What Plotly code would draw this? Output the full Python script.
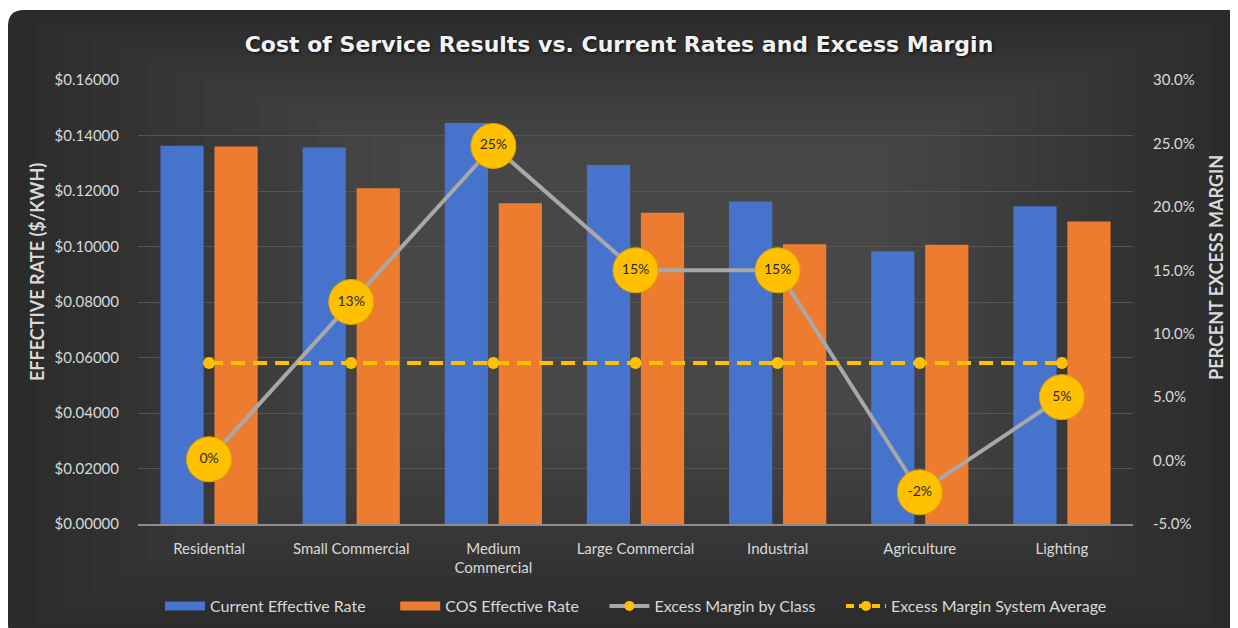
import plotly.graph_objects as go

categories = ["Residential", "Small Commercial", "Medium<br>Commercial", "Large Commercial",
              "Industrial", "Agriculture", "Lighting"]
current_rate = [0.1363, 0.1357, 0.1445, 0.1294, 0.1162, 0.0983, 0.1145]
cos_rate = [0.1360, 0.1210, 0.1156, 0.1122, 0.1008, 0.1006, 0.1090]
margin_by_class = [0.001, 0.125, 0.248, 0.150, 0.150, -0.025, 0.050]
margin_labels = ["0%", "13%", "25%", "15%", "15%", "-2%", "5%"]
margin_avg = [0.077] * 7
y2_ticks = [-0.05, 0.0, 0.05, 0.10, 0.15, 0.20, 0.25, 0.30]
y2_ticktext = ["-5.0%", "0.0%", "5.0%", "10.0%", "15.0%", "20.0%", "25.0%", "30.0%"]

# screen geometry (page has an 8px body margin)
OFF = 8
W, H = 1238 - OFF, 628 - OFF
L, R, T, B = 138, 1133, 80, 524  # plot area in screen pixels
FONT = "Lato"
TXT = "#D9D9D9"
NB = "\u00a0"


def px(x):
    return (x - L) / (R - L)


def py(y):
    return (B - y) / (B - T)


fig = go.Figure()
# legend-only swatches
fig.add_trace(go.Scatter(x=[categories[0]], y=[None], mode="lines",
                         name="Current Effective Rate" + NB * 6,
                         line=dict(color="#4674CC", width=9)))
fig.add_trace(go.Scatter(x=[categories[0]], y=[None], mode="lines",
                         name="COS Effective Rate" + NB * 5,
                         line=dict(color="#EE7C30", width=9)))
fig.add_trace(go.Scatter(x=[categories[0]], y=[None], mode="lines+markers",
                         name="Excess Margin by Class" + NB * 5,
                         line=dict(color="#A8A8A8", width=4), marker=dict(size=10, color="#FFC000")))
fig.add_trace(go.Scatter(x=[categories[0]], y=[None], mode="lines+markers",
                         name="Excess Margin System Average",
                         line=dict(color="#FFC000", width=4, dash="8px,5px"),
                         marker=dict(size=10, color="#FFC000")))

fig.add_trace(go.Bar(x=categories, y=current_rate, name="Current Effective Rate", showlegend=False,
                     marker=dict(color="#4674CC", line=dict(width=0))))
fig.add_trace(go.Bar(x=categories, y=cos_rate, name="COS Effective Rate", showlegend=False,
                     marker=dict(color="#EE7C30", line=dict(width=0))))
fig.add_trace(go.Scatter(x=categories, y=margin_by_class, yaxis="y2", name="Excess Margin by Class",
                         showlegend=False,
                         mode="lines+markers+text", text=margin_labels, textposition="middle center",
                         textfont=dict(family=FONT, size=14, color="#2a2a2a"),
                         line=dict(color="#A8A8A8", width=4),
                         marker=dict(size=45, color="#FFC000", line=dict(color="#E0A500", width=1))))
fig.add_trace(go.Scatter(x=categories, y=margin_avg, yaxis="y2", name="Excess Margin System Average",
                         showlegend=False, mode="lines+markers",
                         line=dict(color="#FFC000", width=4, dash="14px,8px"),
                         marker=dict(size=12, color="#FFC000")))

# background card with soft radial-ish gradient
shapes = []
r = 16
x0, x1, y0, y1 = 8, 1250, 10, 640
path = (f"M {px(x0 + r)},{py(y0)} L {px(x1 - r)},{py(y0)} Q {px(x1)},{py(y0)} {px(x1)},{py(y0 + r)} "
        f"L {px(x1)},{py(y1 - r)} Q {px(x1)},{py(y1)} {px(x1 - r)},{py(y1)} "
        f"L {px(x0 + r)},{py(y1)} Q {px(x0)},{py(y1)} {px(x0)},{py(y1 - r)} "
        f"L {px(x0)},{py(y0 + r)} Q {px(x0)},{py(y0)} {px(x0 + r)},{py(y0)} Z")
shapes.append(dict(type="path", xref="paper", yref="paper", path=path,
                   fillcolor="#2b2b2b", line=dict(width=0), layer="below"))
steps = 14
for i in range(1, steps + 1):
    fx = i * 28
    fy = i * 16
    shapes.append(dict(type="rect", xref="paper", yref="paper",
                       x0=px(x0 + fx), x1=px(1238 - fx * 0.9), y0=py(y0 + fy * 0.6), y1=py(640 - fy),
                       fillcolor="rgba(255,255,255,0.012)", line=dict(width=0), layer="below"))

annotations = [
    dict(text="EFFECTIVE RATE ($/KWH)", xref="paper", yref="paper", x=px(37), y=py(272),
         xanchor="center", yanchor="middle",
         textangle=-90, showarrow=False, font=dict(family=FONT, size=18, color=TXT, weight="bold")),
    dict(text="PERCENT EXCESS MARGIN", xref="paper", yref="paper", x=px(1216), y=py(268),
         xanchor="center", yanchor="middle",
         textangle=-90, showarrow=False, font=dict(family=FONT, size=18, color=TXT, weight="bold")),
]

fig.update_layout(
    width=W, height=H,
    margin=dict(l=L - OFF, r=W - (R - OFF), t=T - OFF, b=H - (B - OFF), autoexpand=False),
    paper_bgcolor="white", plot_bgcolor="rgba(0,0,0,0)",
    font=dict(family=FONT, color=TXT, size=15),
    title=dict(text="Cost of Service Results vs. Current Rates and Excess Margin",
               x=(619 - OFF) / W, xanchor="center", y=1 - (44 - OFF) / H, yanchor="middle",
               font=dict(family="DejaVu Sans", size=22, color="#F2F2F2", weight="bold",
                         shadow="1px 1px 3px rgba(0,0,0,0.8)")),
    barmode="group", bargap=0.24, bargroupgap=0.2,
    xaxis=dict(type="category", categoryorder="array", categoryarray=categories,
               range=[-0.5, len(categories) - 0.5],
               showgrid=False, showline=True, linecolor="#8C8C8C", linewidth=1.5,
               tickfont=dict(family=FONT, size=15, color=TXT),
               ticks="outside", ticklen=10, tickcolor="rgba(0,0,0,0)"),
    yaxis=dict(range=[0, 0.16], dtick=0.02, tickformat="$.5f", showgrid=True, gridcolor="#555555",
               gridwidth=1, zeroline=False, ticks="outside", ticklen=15, tickcolor="rgba(0,0,0,0)",
               tickfont=dict(family=FONT, size=15, color=TXT)),
    yaxis2=dict(range=[-0.05, 0.30], tickvals=y2_ticks, ticktext=y2_ticktext, overlaying="y",
                side="right", showgrid=False, zeroline=False,
                ticks="outside", ticklen=16, tickcolor="rgba(0,0,0,0)",
                tickfont=dict(family=FONT, size=15, color=TXT)),
    legend=dict(orientation="h", x=px(636), xanchor="center", y=py(606), yanchor="middle",
                font=dict(family=FONT, size=16, color=TXT), bgcolor="rgba(0,0,0,0)",
                itemwidth=40, tracegroupgap=0),
    shapes=shapes, annotations=annotations, showlegend=True,
)

fig.write_html("out.html")
